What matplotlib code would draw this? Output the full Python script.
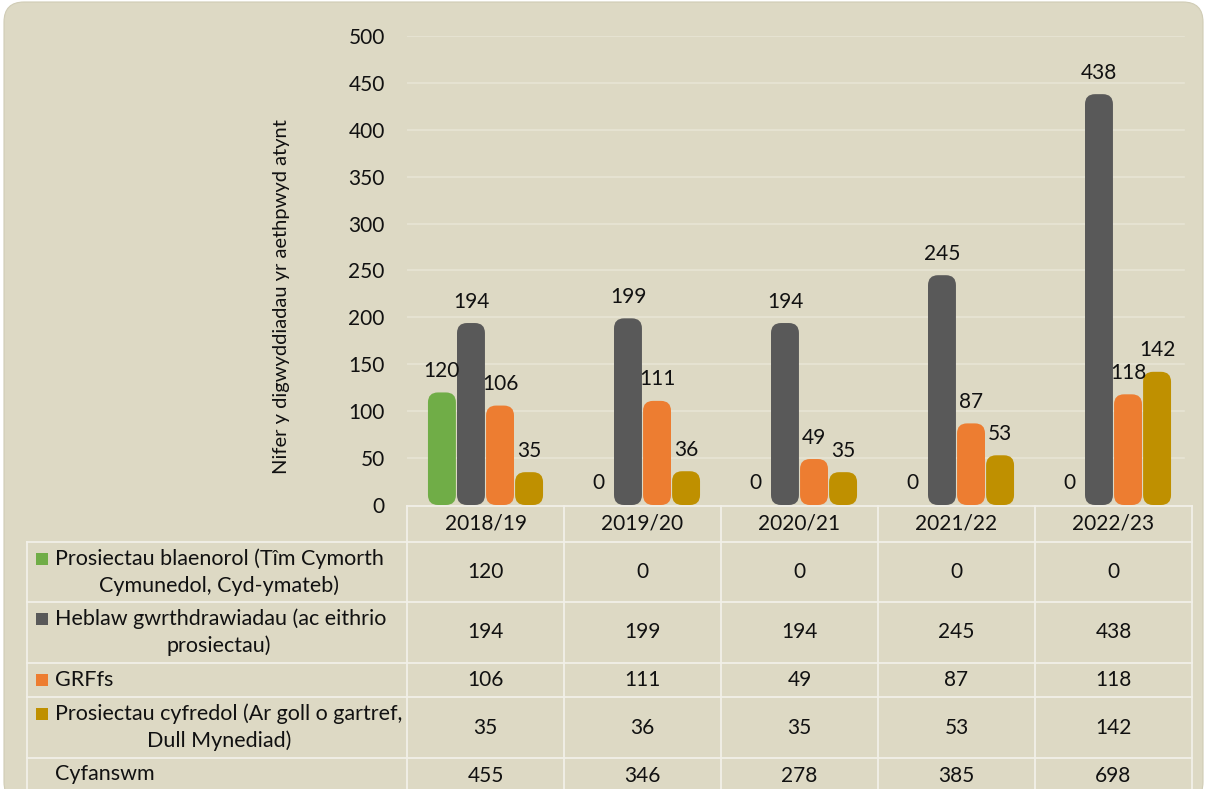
import matplotlib
matplotlib.use("Agg")
import matplotlib.pyplot as plt
from matplotlib.patches import FancyBboxPatch, Rectangle
import matplotlib.transforms as mtransforms

plt.rcParams['font.family'] = ['Lato', 'DejaVu Sans']

# ---- data ----
years = ["2018/19", "2019/20", "2020/21", "2021/22", "2022/23"]
series_names = [
    "Prosiectau blaenorol (Tîm Cymorth\nCymunedol, Cyd-ymateb)",
    "Heblaw gwrthdrawiadau (ac eithrio\nprosiectau)",
    "GRFfs",
    "Prosiectau cyfredol (Ar goll o gartref,\nDull Mynediad)",
]
prosiectau_blaenorol = [120, 0, 0, 0, 0]
heblaw_gwrthdrawiadau = [194, 199, 194, 245, 438]
grffs = [106, 111, 49, 87, 118]
prosiectau_cyfredol = [35, 36, 35, 53, 142]
cyfanswm = [455, 346, 278, 385, 698]
total_label = "Cyfanswm"
y_label = "Nifer y digwyddiadau yr aethpwyd atynt"
y_ticks = [0, 50, 100, 150, 200, 250, 300, 350, 400, 450, 500]

series = [prosiectau_blaenorol, heblaw_gwrthdrawiadau, grffs, prosiectau_cyfredol]
colors = ["#70AD47", "#595959", "#ED7D31", "#BF9000"]

BG = "#DDD9C4"
GRID = "#E7E4D4"
LINE = "#F2F0E8"
TXT = "#111111"

W, H = 1205, 789
fig = plt.figure(figsize=(W / 100, H / 100), dpi=100)
fig.patch.set_facecolor("white")

# overlay axes in pixel coordinates
ov = fig.add_axes([0, 0, 1, 1])
ov.set_xlim(0, W)
ov.set_ylim(H, 0)
ov.axis("off")
ov.set_zorder(0)
frame = FancyBboxPatch((4, 2), 1199, 800, boxstyle="round,pad=0,rounding_size=20",
                       facecolor=BG, edgecolor="#D0CCB5", linewidth=0.8)
ov.add_patch(frame)


def fx(px):
    return px / W


def fy(py):
    return 1 - py / H


ax_l, ax_r, ax_t, ax_b = 407, 1192, 36, 505
ax = fig.add_axes([fx(ax_l), fy(ax_b), fx(ax_r) - fx(ax_l), fy(ax_t) - fy(ax_b)])
ax.set_zorder(2)
ax.patch.set_alpha(0)
ax.set_xlim(-0.5, 4.5)
ax.set_ylim(0, 500)
ax.set_yticks(y_ticks)
ax.set_yticklabels([str(t) for t in y_ticks], fontsize=15, color=TXT)
ax.tick_params(axis="y", length=0, pad=16)
ax.set_xticks([])
for s in ax.spines.values():
    s.set_visible(False)
for t in y_ticks[1:]:
    ax.plot([-0.5, 4.45], [t, t], color=GRID, linewidth=1.2, zorder=0)

# bars
step = 0.185
width = 0.178
xs = list(range(len(years)))
px_per_x = (ax_r - ax_l) / 5.0
px_per_y = (ax_b - ax_t) / 500.0
aspect = px_per_x / px_per_y
r = 10 / px_per_x
for i, (vals, col) in enumerate(zip(series, colors)):
    offs = (i - 1.5) * step
    bars = ax.bar([x + offs for x in xs], vals, width=width, color=col, zorder=3)
    for b, v in zip(bars, vals):
        b.set_visible(False)
        cx = b.get_x() + b.get_width() / 2
        if v > 0:
            fb = FancyBboxPatch((b.get_x(), 0), b.get_width(), v,
                                boxstyle=f"round,pad=0,rounding_size={r}",
                                mutation_aspect=aspect, facecolor=col,
                                edgecolor="none", zorder=3, clip_on=False)
            ax.add_patch(fb)
        ax.annotate(str(v), (cx, v), xytext=(0, 15.5), textcoords="offset points",
                    ha="center", va="center", fontsize=15, color=TXT, zorder=5,
                    annotation_clip=False)

fig.text(fx(282), fy(297), y_label, rotation=90, ha="center", va="center",
         fontsize=14.5, color=TXT)

# ---- table ----
tr = mtransforms.blended_transform_factory(ax.transData, ov.transData)
row_edges = [506, 542, 602, 663, 697, 758, 795]
left_x = 27
for k, yy in enumerate(row_edges[:-1]):
    x0 = left_x if k >= 1 else ax_l
    ov.plot([x0, ax_r], [yy, yy], color=LINE, linewidth=1.3, zorder=1)
for j in range(len(years) + 1):
    xpx = ax_l + j * px_per_x
    ov.plot([xpx, xpx], [506, 795], color=LINE, linewidth=1.3, zorder=1)
ov.plot([left_x, left_x], [542, 795], color=LINE, linewidth=1.3, zorder=1)

fs = 15
fs_lab = 15.5
for x, yl in zip(xs, years):
    ov.text(x, (row_edges[0] + row_edges[1]) / 2, yl, transform=tr, ha="center",
            va="center", fontsize=fs, color=TXT)

rows_vals = series + [cyfanswm]
for k, vals in enumerate(rows_vals):
    ymid = (row_edges[k + 1] + row_edges[k + 2]) / 2
    for x, v in zip(xs, vals):
        ov.text(x, ymid, str(v), transform=tr, ha="center", va="center",
                fontsize=fs, color=TXT)

cell_mid = (left_x + ax_l) / 2 + 2
for k, name in enumerate(series_names):
    y0, y1 = row_edges[k + 1], row_edges[k + 2]
    lines = name.split("\n")
    if len(lines) == 1:
        yl1 = (y0 + y1) / 2
    else:
        yl1 = (y0 + y1) / 2 - 13.5
    ov.add_patch(Rectangle((36, yl1 - 6), 12, 12, facecolor=colors[k],
                           edgecolor="none", zorder=2))
    ov.text(55, yl1, lines[0], ha="left", va="center", fontsize=fs_lab, color=TXT)
    if len(lines) > 1:
        ov.text(cell_mid, yl1 + 27, lines[1], ha="center", va="center",
                fontsize=fs_lab, color=TXT)
ov.text(55, (row_edges[5] + row_edges[6]) / 2 - 2, total_label, ha="left",
        va="center", fontsize=fs_lab, color=TXT)

fig.savefig("out.png", dpi=100, facecolor=fig.get_facecolor())
